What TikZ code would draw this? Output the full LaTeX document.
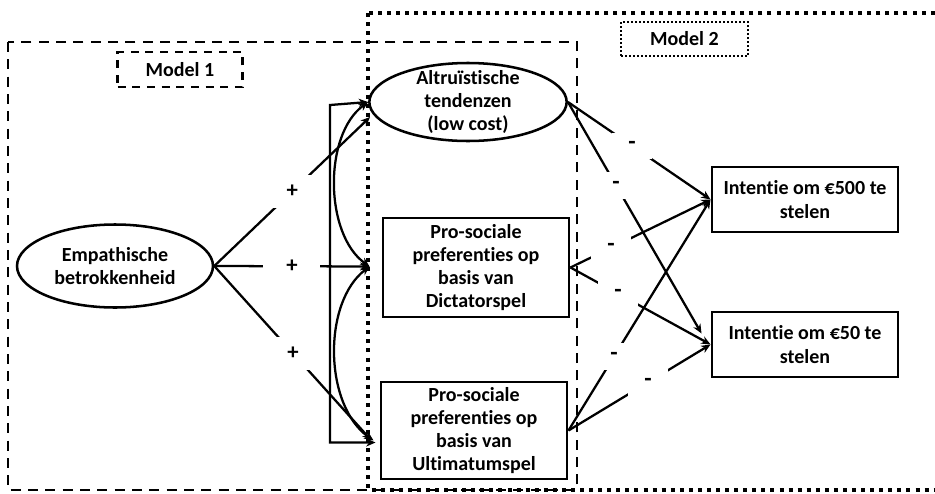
\documentclass[tikz,border=0pt]{standalone}
\usepackage{fontspec}
\setmainfont{Carlito}[Ligatures=NoCommon]
\usepackage{tikz}
\usetikzlibrary{arrows.meta,shapes.geometric,calc}

\tikzset{
  txt/.style={align=center, font=\bfseries\fontsize{15}{17.4}\selectfont},
  bubble/.style={draw, ellipse, line width=1.9pt, inner sep=0pt, txt},
  box/.style={draw, rectangle, line width=2.2pt, inner sep=2pt, minimum width=139.5pt, txt},
  arr/.style={line width=1.7pt, -{Stealth[length=7pt,width=6pt]}},
  corr/.style={line width=1.7pt, {Stealth[length=7pt,width=6pt]}-{Stealth[length=7pt,width=6pt]}},
  plus/.style={fill=white, inner sep=0pt, minimum width=42.75pt, minimum height=24.75pt, font=\bfseries\fontsize{17}{19}\selectfont},
  minus/.style={fill=white, inner sep=0pt, minimum width=30pt, minimum height=20pt, font=\bfseries\fontsize{18}{20}\selectfont},
  modelone/.style={line width=2.2pt, dash pattern=on 7.5pt off 5.5pt},
  modeltwo/.style={line width=2.6pt, dash pattern=on 3pt off 3.8pt}
}

\begin{document}
\begin{tikzpicture}[x=0.75pt,y=-0.75pt]
\useasboundingbox (0,0) rectangle (935,493);
\clip (0,0) rectangle (935,493);

% model frames
\draw[modelone] (8,42) rectangle (577,490);
\draw[modeltwo] (368,13) rectangle (945,490);
\node[draw, line width=2pt, dash pattern=on 6pt off 5pt, minimum width=93.75pt, minimum height=26.25pt, txt] (m1) at (180,69.5) {Model 1};
\node[draw, line width=1.6pt, dash pattern=on 1.5pt off 1.5pt, minimum width=95.25pt, minimum height=25.5pt, txt] (m2) at (684.5,39) {Model 2};

% variables
\node[bubble, minimum width=147pt, minimum height=62.25pt] (emp) at (115,266) {Empathische\\betrokkenheid};
\node[bubble, minimum width=148pt, minimum height=58.5pt, label={[txt]center:Altruïstische\\tendenzen\\(low cost)}] (altr) at (468,102) {};
\node[box, minimum height=74.25pt] (dict) at (476,267.5) {Pro-sociale\\preferenties op\\basis van\\Dictatorspel};
\node[box, minimum height=72.75pt] (ult) at (474,430.5) {Pro-sociale\\preferenties op\\basis van\\Ultimatumspel};
\node[box, minimum height=48.75pt] (i500) at (805,199.5) {Intentie om €500 te\\stelen};
\node[box, minimum height=48.75pt] (i50) at (805,344.5) {Intentie om €50 te\\stelen};

% model 1
\draw[arr] (emp.east) -- node[plus]{+} ($(altr.west)+(2,15)$);
\draw[arr] (emp.east) -- node[plus]{+} ($(dict.west)+(-12,-1)$);
\draw[arr] (emp.east) -- node[plus]{+} ($(ult.west)+(-8,10)$);

\draw[corr] (altr.west) -- ++(-38,3) |- ($(ult.west)+(-4,12)$);
\draw[corr] (altr.west) .. controls +(-45,33) and +(-45,-32) .. ($(dict.west)+(-12,-1)$);
\draw[corr] ($(dict.west)+(-12,-1)$) .. controls +(-47,36) and +(-50,-35) .. ($(ult.west)+(-6,10)$);

% model 2
\draw[arr] (altr.east) -- node[minus, pos=0.45]{-} (i500.west);
\draw[arr] (altr.east) -- node[minus, pos=0.36]{-} ($(i50.west)+(-9,-11)$);
\draw[arr] (dict.east) -- node[minus, pos=0.29]{-} (i500.west);
\draw[arr] (dict.east) -- node[minus, pos=0.34]{-} (i50.west);
\draw[arr] (ult.east) -- node[minus, pos=0.32]{-} (i500.west);
\draw[arr] (ult.east) -- node[minus, pos=0.56]{-} (i50.west);
\end{tikzpicture}
\end{document}
